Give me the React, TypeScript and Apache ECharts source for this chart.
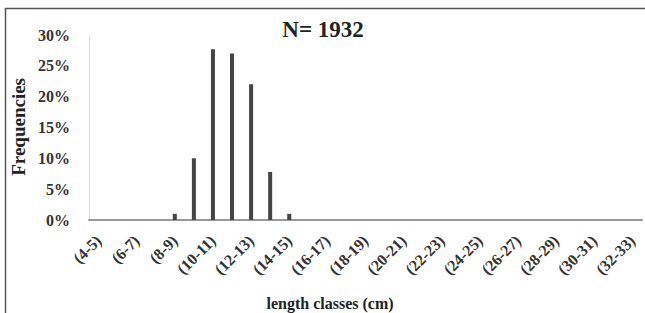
import React, { useEffect, useRef } from "react";
import * as echarts from "echarts";

const categories: string[] = [
  "(4-5)", "(5-6)", "(6-7)", "(7-8)", "(8-9)", "(9-10)", "(10-11)", "(11-12)",
  "(12-13)", "(13-14)", "(14-15)", "(15-16)", "(16-17)", "(17-18)", "(18-19)",
  "(19-20)", "(20-21)", "(21-22)", "(22-23)", "(23-24)", "(24-25)", "(25-26)",
  "(26-27)", "(27-28)", "(28-29)", "(29-30)", "(30-31)", "(31-32)", "(32-33)",
];
const frequencies: number[] = [
  0, 0, 0, 0, 0.01, 0.1, 0.277, 0.27, 0.22, 0.078, 0.01, 0, 0, 0, 0,
  0, 0, 0, 0, 0, 0, 0, 0, 0, 0, 0, 0, 0, 0,
];
const titleText = "N= 1932";
const yName = "Frequencies";
const xName = "length classes (cm)";

const serif = "Liberation Serif, Times New Roman, serif";

export default function App() {
  const ref = useRef<HTMLDivElement>(null);
  useEffect(() => {
    if (!ref.current) return;
    const chart = echarts.init(ref.current, undefined, { renderer: "svg" });
    chart.setOption({
      animation: false,
      backgroundColor: "#fff",
      title: {
        text: titleText,
        left: 318,
        top: 13,
        textAlign: "center",
        textStyle: { fontFamily: serif, fontWeight: "bold", fontSize: 23, color: "#222" },
      },
      graphic: [
        { type: "line", shape: { x1: 5, y1: 8.5, x2: 645, y2: 8.5 }, style: { stroke: "#555", lineWidth: 1.5 } },
        { type: "line", shape: { x1: 5.5, y1: 8, x2: 5.5, y2: 313 }, style: { stroke: "#555", lineWidth: 1.5 } },
        {
          type: "text",
          x: 9,
          y: 78,
          rotation: Math.PI / 2,
          style: {
            text: yName, fontFamily: serif, fontWeight: "bold", fontSize: 19, fill: "#222",
            align: "right", verticalAlign: "top",
          },
        },
        {
          type: "text",
          x: 330,
          y: 303,
          style: {
            text: xName, fontFamily: serif, fontWeight: "bold", fontSize: 16, fill: "#222",
            align: "center", verticalAlign: "middle",
          },
        },
      ],
      grid: { left: 89, right: 3, top: 35, bottom: 93, containLabel: false },
      xAxis: {
        type: "category",
        data: categories,
        axisLine: { lineStyle: { color: "#999", width: 2 } },
        axisTick: { show: false },
        axisLabel: {
          interval: 1,
          rotate: 45,
          fontFamily: serif,
          fontWeight: "bold",
          fontSize: 16,
          color: "#333",
          margin: 18,
        },
      },
      yAxis: {
        type: "value",
        min: 0,
        max: 0.3,
        interval: 0.05,
        axisLine: { show: true, lineStyle: { color: "#ddd", width: 1 } },
        axisTick: { show: false },
        splitLine: { show: false },
        axisLabel: {
          fontFamily: serif,
          fontWeight: "bold",
          fontSize: 16,
          color: "#333",
          margin: 19,
          formatter: (v: number) => `${Math.round(v * 100)}%`,
        },
      },
      series: [
        {
          type: "bar",
          data: frequencies,
          barWidth: 4,
          itemStyle: { color: "#444" },
        },
      ],
    });
    return () => chart.dispose();
  }, []);
  return <div ref={ref} style={{ width: 645, height: 313, position: "absolute", left: 0, top: 0 }} />;
}
